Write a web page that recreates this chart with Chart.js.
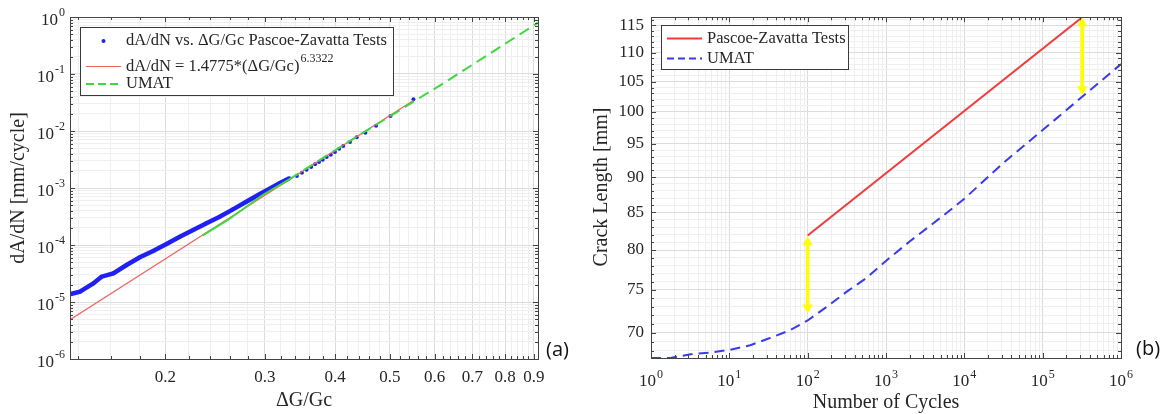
<!DOCTYPE html>
<html>
<head>
<meta charset="utf-8">
<script src="https://cdn.jsdelivr.net/npm/chart.js@4.4.0/dist/chart.umd.min.js"></script>
<style>
  html, body { margin: 0; padding: 0; background: #fff; }
  #wrapA { position: absolute; left: 0; top: 0; width: 580px; height: 414px; }
  #wrapB { position: absolute; left: 580px; top: 0; width: 591px; height: 414px; }
</style>
</head>
<body>
<div id="wrapA"><canvas id="rateChart" width="580" height="414"></canvas></div>
<div id="wrapB"><canvas id="lengthChart" width="591" height="414"></canvas></div>
<script>
// ---- (a) crack growth rate vs. energy release ratio ----
const testRatio = [0.1359, 0.1411, 0.149, 0.1541, 0.1617, 0.1707, 0.1802, 0.1902, 0.2009, 0.2121,
  0.224, 0.2365, 0.2496, 0.2635, 0.2782, 0.2936, 0.31, 0.318, 0.3317,
  0.342, 0.3492, 0.3558, 0.3625, 0.3683, 0.3743, 0.3801, 0.3863, 0.3928, 0.3995, 0.4064,
  0.4133, 0.4248, 0.4366, 0.4523, 0.4725, 0.5012, 0.5503];
const testRate = [1.38e-5, 1.52e-5, 2.12e-5, 2.78e-5, 3.18e-5, 4.45e-5, 6.08e-5, 7.85e-5, 1.04e-4, 1.40e-4,
  1.83e-4, 2.40e-4, 3.14e-4, 4.22e-4, 5.75e-4, 7.75e-4, 1.04e-3, 1.2e-3, 1.48e-3,
  1.63e-3, 1.86e-3, 2.10e-3, 2.34e-3, 2.60e-3, 2.86e-3, 3.14e-3, 3.50e-3, 3.84e-3, 4.28e-3, 4.90e-3,
  5.46e-3, 6.40e-3, 7.75e-3, 9.35e-3, 1.24e-2, 1.83e-2, 3.60e-2];
const fitRatio = [0.1355, 0.5503];
const fitRate = [4.9e-6, 0.0343];
const umatRatio = [0.2325, 0.258, 0.2975, 0.3317, 0.418, 0.6285, 0.915];
const umatRate = [1.46e-4, 2.75e-4, 7.54e-4, 1.42e-3, 6.08e-3, 7.33e-2, 0.794];
const ratioTicks = [0.2, 0.3, 0.4, 0.5, 0.6, 0.7, 0.8, 0.9];
const ratioMinor = [0.14, 0.16, 0.18, 0.22, 0.24, 0.26, 0.28, 0.32, 0.34, 0.36, 0.38,
  0.42, 0.44, 0.46, 0.48, 0.52, 0.54, 0.56, 0.58, 0.62, 0.64, 0.66, 0.68,
  0.72, 0.74, 0.76, 0.78, 0.82, 0.84, 0.86, 0.88];
const rateTicks = [1e-6, 1e-5, 1e-4, 1e-3, 1e-2, 1e-1, 1];

// ---- (b) crack length vs. number of cycles ----
const testCycles = [100, 3.14e5];
const testLength = [81.9, 116.4];
const umatCycles = [1, 1.76, 3.2, 5.7, 10.3, 18.5, 33, 60, 100, 176, 316, 569, 1023, 2000,
  5000, 1e4, 31600, 1e5, 3.16e5, 1e6];
const umatLength = [67.2, 67.2, 67.6, 67.8, 68.1, 68.6, 69.4, 70.3, 71.4, 73.0, 74.8, 76.5, 78.7, 81.1,
  84.3, 86.9, 92.1, 97.1, 102.4, 108.0];
const cycleTicks = [1, 10, 100, 1e3, 1e4, 1e5, 1e6];
const lengthTicks = [70, 75, 80, 85, 90, 95, 100, 105, 110, 115];
const lengthMinor = [68, 69, 71, 72, 73, 74, 76, 77, 78, 79, 81, 82, 83, 84, 86, 87, 88, 89,
  91, 92, 93, 94, 96, 97, 98, 99, 101, 102, 103, 104, 106, 107, 108, 109, 111, 112, 113, 114, 116];
const arrowCycles = [100, 3.2e5];
const arrowTop = [81.8, 116.5];
const arrowBottom = [72.2, 102.7];

const legendA = ['dA/dN vs. \u0394G/Gc Pascoe-Zavatta Tests', 'dA/dN = 1.4775*(\u0394G/Gc)', 'UMAT'];
const legendASup = '6.3322';
const legendB = ['Pascoe-Zavatta Tests', 'UMAT'];

const SERIF = '"Liberation Serif", "Times New Roman", serif';
const GRID_MAJOR = '#dcdcdc';
const GRID_MINOR = '#efefef';
const AXIS = '#444444';
const TEXT = '#262626';
const BLUE = '#2020f5';
const RED_A = '#f26060';
const GREEN = '#3fd83f';
const RED_B = '#f43a3a';
const BLUE_B = '#3a3aee';
const YELLOW = '#ffff00';

function pts(xs, ys) { return xs.map((x, i) => ({ x: x, y: ys[i] })); }

function tickList(majors, minors) {
  return majors.map(v => ({ value: v, isMajor: true }))
    .concat(minors.map(v => ({ value: v, isMajor: false })))
    .sort((a, b) => a.value - b.value);
}

function logMinors(lo, hi) {
  const out = [];
  for (let e = lo; e < hi; e++) for (let k = 2; k <= 9; k++) out.push(k * Math.pow(10, e));
  return out;
}

function gridOpts() {
  return { color: c => (c.tick && c.tick.isMajor) ? GRID_MAJOR : GRID_MINOR, drawTicks: false, lineWidth: 1 };
}

function drawFrame(chart) {
  const ctx = chart.ctx, a = chart.chartArea;
  const xs = chart.scales.x, ys = chart.scales.y;
  ctx.save();
  ctx.strokeStyle = AXIS;
  ctx.lineWidth = 1;
  ctx.beginPath();
  xs.ticks.forEach(t => {
    const px = Math.round(xs.getPixelForValue(t.value)) + 0.5;
    const len = t.isMajor ? 5 : 3;
    ctx.moveTo(px, a.bottom); ctx.lineTo(px, a.bottom - len);
    ctx.moveTo(px, a.top); ctx.lineTo(px, a.top + len);
  });
  ys.ticks.forEach(t => {
    const py = Math.round(ys.getPixelForValue(t.value)) + 0.5;
    const len = t.isMajor ? 5 : 3;
    ctx.moveTo(a.left, py); ctx.lineTo(a.left + len, py);
    ctx.moveTo(a.right, py); ctx.lineTo(a.right - len, py);
  });
  ctx.stroke();
  ctx.strokeRect(Math.round(a.left) + 0.5, Math.round(a.top) + 0.5,
    Math.round(a.right - a.left), Math.round(a.bottom - a.top));
  ctx.restore();
}

function powerLabel(ctx, x, y, exp, align) {
  ctx.font = '17px ' + SERIF;
  const wb = ctx.measureText('10').width;
  ctx.font = '12px ' + SERIF;
  const we = ctx.measureText(exp).width;
  const total = wb + we + 1;
  const x0 = align === 'right' ? x - total : x - total / 2;
  ctx.fillStyle = TEXT;
  ctx.textAlign = 'left';
  ctx.textBaseline = 'middle';
  ctx.font = '17px ' + SERIF;
  ctx.fillText('10', x0, y);
  ctx.font = '12px ' + SERIF;
  ctx.fillText(exp, x0 + wb + 1, y - 7.5);
}

function legendSample(ctx, row, x1, x2) {
  ctx.save();
  if (row.kind === 'dot') {
    ctx.fillStyle = row.color;
    ctx.beginPath(); ctx.arc((x1 + x2) / 2, row.y, 2, 0, Math.PI * 2); ctx.fill();
  } else {
    ctx.strokeStyle = row.color;
    ctx.lineWidth = row.width;
    ctx.setLineDash(row.dash || []);
    ctx.beginPath(); ctx.moveTo(x1, row.y); ctx.lineTo(x2, row.y); ctx.stroke();
  }
  ctx.restore();
}

function drawLegend(ctx, box, rows) {
  ctx.save();
  ctx.fillStyle = '#fff';
  ctx.fillRect(box.x, box.y, box.w, box.h);
  ctx.strokeStyle = '#3a3a3a';
  ctx.lineWidth = 1;
  ctx.strokeRect(box.x + 0.5, box.y + 0.5, box.w, box.h);
  rows.forEach(r => {
    legendSample(ctx, r, box.x + 6, box.x + 41);
    ctx.fillStyle = TEXT;
    ctx.font = '16.5px ' + SERIF;
    ctx.textAlign = 'left';
    ctx.textBaseline = 'middle';
    ctx.fillText(r.text, box.x + 46, r.y);
    if (r.sup) {
      const w = ctx.measureText(r.text).width;
      ctx.font = '12px ' + SERIF;
      ctx.fillText(r.sup, box.x + 46 + w + 1, r.y - 8);
    }
  });
  ctx.restore();
}

function axisTitle(ctx, text, x, y, rotate) {
  ctx.save();
  ctx.fillStyle = TEXT;
  ctx.font = '20px ' + SERIF;
  ctx.textAlign = 'center';
  ctx.textBaseline = 'middle';
  ctx.translate(x, y);
  if (rotate) ctx.rotate(-Math.PI / 2);
  ctx.fillText(text, 0, 0);
  ctx.restore();
}

function panelTag(ctx, text, x, y) {
  ctx.save();
  ctx.fillStyle = '#111';
  ctx.font = '20px "Open Sans", "Noto Sans", sans-serif';
  ctx.textAlign = 'left';
  ctx.textBaseline = 'middle';
  ctx.fillText(text, x, y);
  ctx.restore();
}

const baseOpts = {
  responsive: false,
  animation: false,
  devicePixelRatio: 1,
  events: [],
  plugins: { legend: { display: false }, tooltip: { enabled: false } }
};

// ---------- chart (a) ----------
const rateDecor = {
  id: 'rateDecor',
  afterDraw(chart) {
    const ctx = chart.ctx;
    drawFrame(chart);
    const ys = chart.scales.y;
    rateTicks.forEach(v => {
      powerLabel(ctx, 65, ys.getPixelForValue(v) + 3.5, String(Math.round(Math.log10(v))), 'right');
    });
    drawLegend(ctx, { x: 80, y: 27, w: 313, h: 68 }, [
      { y: 41, kind: 'dot', color: BLUE, text: legendA[0] },
      { y: 66.5, kind: 'line', color: RED_A, width: 1.2, text: legendA[1], sup: legendASup },
      { y: 84, kind: 'line', color: GREEN, width: 2, dash: [8, 4], text: legendA[2] }
    ]);
    axisTitle(ctx, '\u0394G/Gc', 304, 401, false);
    axisTitle(ctx, 'dA/dN [mm/cycle]', 19, 188, true);
    panelTag(ctx, '(a)', 546, 350);
  }
};

new Chart(document.getElementById('rateChart'), {
  type: 'scatter',
  data: {
    datasets: [
      {
        label: 'UMAT',
        data: pts(umatRatio, umatRate),
        showLine: true,
        borderColor: GREEN,
        borderWidth: 2,
        pointRadius: 0,
        segment: { borderDash: c => c.p0.parsed.x < 0.33 ? [] : [11, 6] },
        order: 0
      },
      {
        label: 'fit',
        data: pts(fitRatio, fitRate),
        showLine: true,
        borderColor: RED_A,
        borderWidth: 1.2,
        pointRadius: 0,
        order: 1
      },
      {
        label: 'tests',
        data: pts(testRatio, testRate),
        showLine: true,
        borderColor: BLUE,
        borderWidth: 4.5,
        segment: { borderColor: c => c.p1.parsed.x <= 0.335 ? BLUE : 'rgba(0,0,0,0)' },
        pointRadius: 2,
        pointBorderWidth: 0,
        pointBackgroundColor: BLUE,
        order: 2
      }
    ]
  },
  options: Object.assign({}, baseOpts, {
    layout: { padding: { top: 17, right: 42, left: 0, bottom: 0 } },
    scales: {
      x: {
        type: 'logarithmic', min: 0.1355, max: 0.915,
        afterBuildTicks: s => { s.ticks = tickList(ratioTicks, ratioMinor); },
        afterFit: s => { s.height = 55; },
        grid: gridOpts(),
        border: { display: false },
        ticks: {
          autoSkip: false, maxRotation: 0, padding: 8, color: TEXT,
          font: { family: SERIF, size: 17 },
          callback: (v, i, ticks) => ticks[i].isMajor ? String(v) : ''
        }
      },
      y: {
        type: 'logarithmic', min: 1e-6, max: 1,
        afterBuildTicks: s => { s.ticks = tickList(rateTicks, logMinors(-6, 0)); },
        afterFit: s => { s.width = 70; },
        grid: gridOpts(),
        border: { display: false },
        ticks: { autoSkip: false, callback: () => '' }
      }
    }
  }),
  plugins: [rateDecor]
});

// ---------- chart (b) ----------
function drawArrow(ctx, x, yTop, yBot) {
  const head = 9, half = 5;
  ctx.save();
  ctx.strokeStyle = YELLOW;
  ctx.fillStyle = YELLOW;
  ctx.lineWidth = 3.5;
  ctx.beginPath(); ctx.moveTo(x, yTop + head - 1); ctx.lineTo(x, yBot - head + 1); ctx.stroke();
  ctx.beginPath(); ctx.moveTo(x, yTop); ctx.lineTo(x - half, yTop + head); ctx.lineTo(x + half, yTop + head); ctx.closePath(); ctx.fill();
  ctx.beginPath(); ctx.moveTo(x, yBot); ctx.lineTo(x - half, yBot - head); ctx.lineTo(x + half, yBot - head); ctx.closePath(); ctx.fill();
  ctx.restore();
}

const lengthDecor = {
  id: 'lengthDecor',
  afterDatasetsDraw(chart) {
    const xs = chart.scales.x, ys = chart.scales.y;
    arrowCycles.forEach((c, i) => {
      drawArrow(chart.ctx, xs.getPixelForValue(c), ys.getPixelForValue(arrowTop[i]), ys.getPixelForValue(arrowBottom[i]));
    });
  },
  afterDraw(chart) {
    const ctx = chart.ctx;
    drawFrame(chart);
    const xs = chart.scales.x;
    cycleTicks.forEach(v => {
      powerLabel(ctx, xs.getPixelForValue(v), 382, String(Math.round(Math.log10(v))), 'center');
    });
    drawLegend(ctx, { x: 81, y: 25, w: 187, h: 44 }, [
      { y: 38.5, kind: 'line', color: RED_B, width: 2, text: legendB[0] },
      { y: 58.5, kind: 'line', color: BLUE_B, width: 2, dash: [7, 4], text: legendB[1] }
    ]);
    axisTitle(ctx, 'Number of Cycles', 306, 403, false);
    axisTitle(ctx, 'Crack Length [mm]', 22, 187, true);
    panelTag(ctx, '(b)', 556, 349);
  }
};

new Chart(document.getElementById('lengthChart'), {
  type: 'scatter',
  data: {
    datasets: [
      {
        label: 'Pascoe-Zavatta Tests',
        data: pts(testCycles, testLength),
        showLine: true,
        borderColor: RED_B,
        borderWidth: 2,
        pointRadius: 0
      },
      {
        label: 'UMAT',
        data: pts(umatCycles, umatLength),
        showLine: true,
        borderColor: BLUE_B,
        borderWidth: 2,
        borderDash: [10, 6],
        pointRadius: 0
      }
    ]
  },
  options: Object.assign({}, baseOpts, {
    layout: { padding: { top: 16, right: 50, left: 0, bottom: 0 } },
    scales: {
      x: {
        type: 'logarithmic', min: 1, max: 1e6,
        afterBuildTicks: s => { s.ticks = tickList(cycleTicks, logMinors(0, 6)); },
        afterFit: s => { s.height = 56; },
        grid: gridOpts(),
        border: { display: false },
        ticks: { autoSkip: false, maxRotation: 0, callback: () => '' }
      },
      y: {
        type: 'logarithmic', min: 67.2, max: 116.5,
        afterBuildTicks: s => { s.ticks = tickList(lengthTicks, lengthMinor); },
        afterFit: s => { s.width = 71; },
        grid: gridOpts(),
        border: { display: false },
        ticks: {
          autoSkip: false, padding: 7, color: TEXT,
          font: { family: SERIF, size: 17 },
          callback: (v, i, ticks) => ticks[i].isMajor ? String(v) : ''
        }
      }
    }
  }),
  plugins: [lengthDecor]
});
</script>
</body>
</html>
